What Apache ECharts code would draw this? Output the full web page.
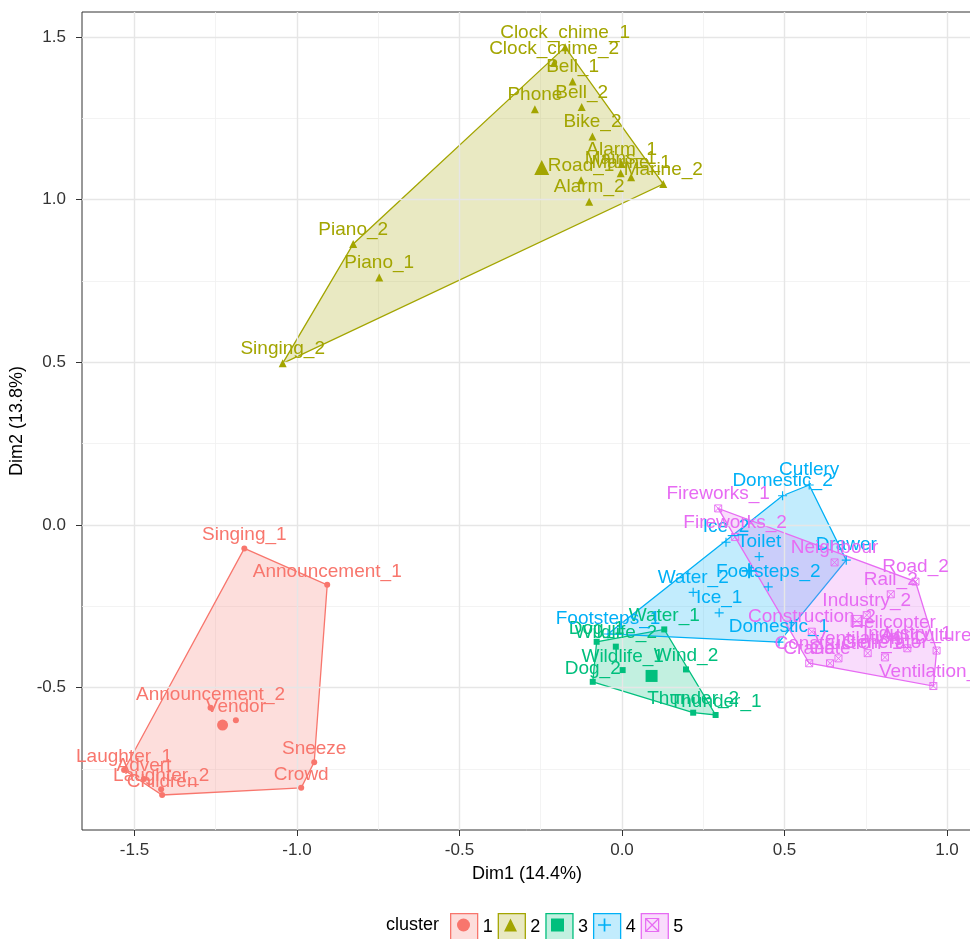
<!DOCTYPE html>
<html><head><meta charset="utf-8">
<script src="https://cdn.jsdelivr.net/npm/echarts@6/dist/echarts.min.js"></script>
<style>html,body{margin:0;padding:0;background:#fff}#c{width:970px;height:939px}</style>
</head><body><div id="c"></div>
<script>
// ---------------- data ----------------
const clusterNames = ['1', '2', '3', '4', '5'];

const c1Names = ['Singing_1','Announcement_1','Announcement_2','Vendor','Sneeze','Crowd','Laughter_1','Advert','Laughter_2','Children'];
const c1X = [-1.162,-0.907,-1.266,-1.188,-0.947,-0.987,-1.532,-1.471,-1.418,-1.415];
const c1Y = [-0.072,-0.184,-0.562,-0.600,-0.729,-0.808,-0.753,-0.781,-0.812,-0.830];

const c2Names = ['Clock_chime_1','Clock_chime_2','Bell_1','Phone','Bell_2','Bike_2','Alarm_1','Road_1','Mains_1','Marine_1','Marine_2','Alarm_2','Piano_2','Piano_1','Singing_2'];
const c2X = [-0.175,-0.209,-0.152,-0.268,-0.124,-0.091,-0.001,-0.126,-0.004,0.028,0.127,-0.101,-0.827,-0.747,-1.044];
const c2Y = [1.469,1.420,1.363,1.278,1.285,1.194,1.110,1.060,1.081,1.069,1.048,0.994,0.864,0.761,0.497];

const c3Names = ['Dog_1','Water_1','Wildlife_2','Wildlife_1','Wind_2','Dog_2','Thunder_2','Thunder_1'];
const c3X = [-0.078,0.130,-0.019,0.002,0.197,-0.090,0.219,0.288];
const c3Y = [-0.359,-0.321,-0.374,-0.446,-0.444,-0.482,-0.577,-0.584];

const c4Names = ['Cutlery','Domestic_2','Ice_2','Toilet','Drawer','Footsteps_2','Water_2','Ice_1','Domestic_1','Footsteps_1'];
const c4X = [0.576,0.494,0.320,0.422,0.690,0.450,0.219,0.299,0.483,-0.043];
const c4Y = [0.123,0.090,-0.053,-0.097,-0.108,-0.190,-0.207,-0.270,-0.360,-0.335];

const c5Names = ['Fireworks_1','Fireworks_2','Neighbour','Road_2','Rail_2','Industry_2','Construction_2','Helicopter','Industry_1','Agriculture_1','Ventilation_1','Generator','Construction_1','Gate','Crane','Ventilation_2'];
const c5X = [0.296,0.348,0.654,0.903,0.827,0.753,0.584,0.834,0.878,0.968,0.756,0.809,0.666,0.640,0.576,0.958];
const c5Y = [0.051,-0.037,-0.115,-0.174,-0.213,-0.277,-0.328,-0.344,-0.379,-0.386,-0.394,-0.407,-0.410,-0.425,-0.425,-0.495];

// cluster centres (large markers)
const centerX = [-1.229, -0.247, 0.091, 0.391, 0.722];
const centerY = [-0.615, 1.099, -0.464, -0.141, -0.295];

// axes
const xMajorTicks = [-1.5, -1.0, -0.5, 0.0, 0.5, 1.0];
const xMinorTicks = [-1.25, -0.75, -0.25, 0.25, 0.75];
const yMajorTicks = [-0.5, 0.0, 0.5, 1.0, 1.5];
const yMinorTicks = [-0.75, -0.25, 0.25, 0.75, 1.25];
const xRange = [-1.6615, 1.0769];
const yRange = [-0.9376, 1.577];

// ---------------- styling ----------------
const FONT = "'Liberation Sans', Arial, Helvetica, sans-serif";
const colors = ['#F8766D', '#A3A500', '#00BF7D', '#00B0F6', '#E76BF3'];
function alpha(hex, a) {
  const r = parseInt(hex.slice(1,3),16), g = parseInt(hex.slice(3,5),16), b = parseInt(hex.slice(5,7),16);
  return 'rgba(' + r + ',' + g + ',' + b + ',' + a + ')';
}
const PLUS = 'path://M-0.13,-1H0.13V-0.13H1V0.13H0.13V1H-0.13V0.13H-1V-0.13H-0.13Z';
const BOXX = 'path://M-1,-1H1V1H-1ZM-1,-1L1,1M1,-1L-1,1';
const symbols = ['circle', 'triangle', 'rect', PLUS, BOXX];
const pointSizes = [6, 8, 6, 9, 7];
const centerSizes = [11, 15, 12, 15, 11];

const clusters = [
  [c1Names, c1X, c1Y], [c2Names, c2X, c2Y], [c3Names, c3X, c3Y], [c4Names, c4X, c4Y], [c5Names, c5X, c5Y]
];

function convexHull(xs, ys) {
  const pts = xs.map((x, i) => [x, ys[i]]).sort((a, b) => a[0] - b[0] || a[1] - b[1]);
  const cross = (o, a, b) => (a[0]-o[0])*(b[1]-o[1]) - (a[1]-o[1])*(b[0]-o[0]);
  const lower = [];
  for (const p of pts) {
    while (lower.length >= 2 && cross(lower[lower.length-2], lower[lower.length-1], p) <= 0) lower.pop();
    lower.push(p);
  }
  const upper = [];
  for (let i = pts.length - 1; i >= 0; i--) {
    const p = pts[i];
    while (upper.length >= 2 && cross(upper[upper.length-2], upper[upper.length-1], p) <= 0) upper.pop();
    upper.push(p);
  }
  upper.pop(); lower.pop();
  return lower.concat(upper);
}

function symbolStyle(i) {
  if (i === 4) return { color: 'rgba(0,0,0,0)', borderColor: colors[i], borderWidth: 0.9 };
  return { color: colors[i] };
}

const series = [];
// hull polygons
clusters.forEach((c, i) => {
  const hull = convexHull(c[1], c[2]);
  series.push({
    type: 'custom', name: 'hull' + (i + 1), coordinateSystem: 'cartesian2d',
    xAxisIndex: 0, yAxisIndex: 0, silent: true, z: 1,
    data: hull, encode: { x: 0, y: 1 },
    renderItem: function (params, api) {
      if (params.dataIndex !== 0) return null;
      return {
        type: 'polygon',
        shape: { points: hull.map(p => api.coord(p)) },
        style: { fill: alpha(colors[i], 0.24), stroke: colors[i], lineWidth: 1.3 }
      };
    }
  });
});
// points with labels
clusters.forEach((c, i) => {
  series.push({
    type: 'scatter', name: clusterNames[i], xAxisIndex: 0, yAxisIndex: 0, z: 3,
    symbol: symbols[i], symbolSize: pointSizes[i],
    itemStyle: Object.assign({ opacity: 1 }, symbolStyle(i)),
    label: { show: true, position: 'top', distance: 1, formatter: '{b}', color: colors[i], fontSize: 19, fontFamily: FONT },
    labelLayout: { hideOverlap: false },
    emphasis: { disabled: true },
    data: c[0].map((n, k) => ({ name: n, value: [c[1][k], c[2][k]] }))
  });
});
// centres
clusters.forEach((c, i) => {
  series.push({
    type: 'scatter', name: 'centre' + (i + 1), xAxisIndex: 0, yAxisIndex: 0, z: 3,
    symbol: symbols[i], symbolSize: centerSizes[i],
    itemStyle: Object.assign({ opacity: 1 }, symbolStyle(i)),
    emphasis: { disabled: true },
    data: [[centerX[i], centerY[i]]]
  });
});

const fmt = v => Number(v).toFixed(1);

const option = {
  animation: false,
  backgroundColor: '#fff',
  textStyle: { fontFamily: FONT },
  grid: { left: 82, right: -2, top: 12, bottom: 109, show: true, borderColor: '#333333', borderWidth: 1, backgroundColor: 'rgba(0,0,0,0)', containLabel: false, outerBoundsMode: 'none' },
  title: { text: 'cluster', left: 386, top: 916, padding: 0, textStyle: { fontSize: 18, fontWeight: 'normal', color: '#000', fontFamily: FONT } },
  xAxis: [
    {
      type: 'value', gridIndex: 0, position: 'bottom', min: xRange[0], max: xRange[1],
      name: 'Dim1 (14.4%)', nameLocation: 'middle', nameGap: 35,
      nameTextStyle: { fontSize: 18, color: '#000', fontFamily: FONT },
      axisLine: { show: false, onZero: false },
      axisTick: { show: true, customValues: xMajorTicks, length: 6, lineStyle: { color: '#333333', width: 1 } },
      axisLabel: { show: true, customValues: xMajorTicks, formatter: fmt, fontSize: 17, color: '#333', margin: 12, fontFamily: FONT },
      splitLine: { show: true, lineStyle: { color: '#E6E6E6', width: 1.4 } },
      z: 2
    },
    {
      type: 'value', gridIndex: 0, position: 'top', min: xRange[0], max: xRange[1],
      axisLine: { show: false, onZero: false },
      axisTick: { show: false, customValues: xMinorTicks },
      axisLabel: { show: false, customValues: xMinorTicks },
      splitLine: { show: true, lineStyle: { color: '#F0F0F0', width: 0.8 } },
      z: 1
    }
  ],
  yAxis: [
    {
      type: 'value', gridIndex: 0, position: 'left', min: yRange[0], max: yRange[1],
      name: 'Dim2 (13.8%)', nameLocation: 'middle', nameGap: 50, nameRotate: 90,
      nameTextStyle: { fontSize: 18, color: '#000', fontFamily: FONT },
      axisLine: { show: false, onZero: false },
      axisTick: { show: true, customValues: yMajorTicks, length: 6, lineStyle: { color: '#333333', width: 1 } },
      axisLabel: { show: true, customValues: yMajorTicks, formatter: fmt, fontSize: 17, color: '#333', margin: 16, fontFamily: FONT },
      splitLine: { show: true, lineStyle: { color: '#E6E6E6', width: 1.4 } },
      z: 2
    },
    {
      type: 'value', gridIndex: 0, position: 'right', min: yRange[0], max: yRange[1],
      axisLine: { show: false, onZero: false },
      axisTick: { show: false, customValues: yMinorTicks },
      axisLabel: { show: false, customValues: yMinorTicks },
      splitLine: { show: true, lineStyle: { color: '#F0F0F0', width: 0.8 } },
      z: 1
    }
  ],
  legend: [
    {
      orient: 'horizontal', left: 450, top: 913, padding: 0, itemWidth: 27, itemHeight: 27, itemGap: 5,
      selectedMode: false,
      textStyle: { fontSize: 18, color: '#000', fontFamily: FONT },
      data: clusterNames.map((n, i) => ({ name: n, icon: 'rect', itemStyle: { color: alpha(colors[i], 0.24), borderColor: colors[i], borderWidth: 1.3 } }))
    },
    {
      orient: 'horizontal', left: 457, top: 916, padding: 0, itemWidth: 13, itemHeight: 13, itemGap: 19,
      selectedMode: false,
      textStyle: { fontSize: 18, color: 'rgba(0,0,0,0)', fontFamily: FONT },
      data: clusterNames.map((n, i) => ({ name: n, icon: symbols[i], itemStyle: Object.assign({ opacity: 1 }, symbolStyle(i), i === 4 ? { borderWidth: 1.2 } : {}) }))
    }
  ],
  series: series
};

const chart = echarts.init(document.getElementById('c'), null, { renderer: 'canvas' });
chart.setOption(option);
</script></body></html>
